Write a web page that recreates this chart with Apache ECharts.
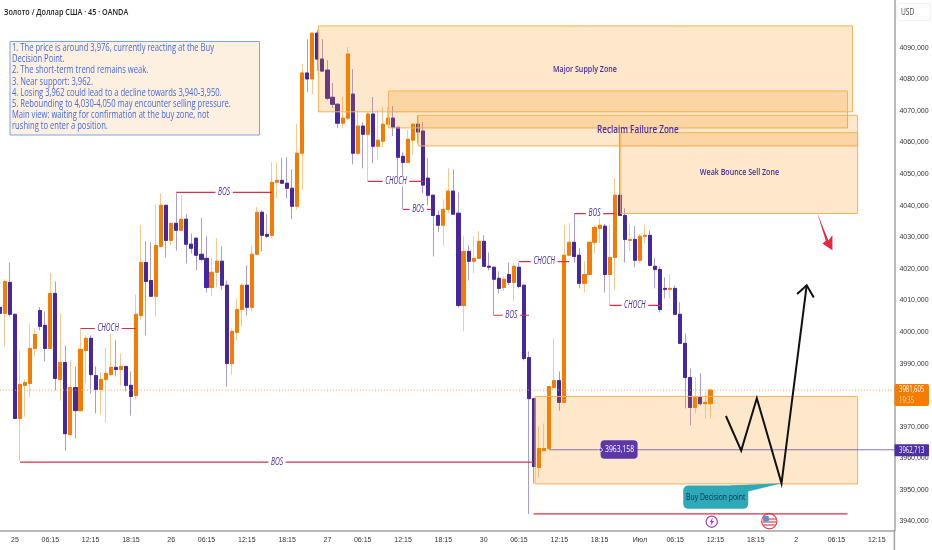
<!DOCTYPE html>
<html><head><meta charset="utf-8">
<style>html,body{margin:0;padding:0;background:#fff}#c{width:932px;height:550px}</style>
<script src="https://cdn.jsdelivr.net/npm/echarts@6/dist/echarts.min.js"></script>
</head><body><div id="c"></div>
<script>
const barCount = 178;
const tickIndex  = [3,10,18,26,34,41,49,57,65,72,80,88,96,103,111,119,127,134,142,150,158,166,174];
const tickLabels = ['25','06:15','12:15','18:15','26','06:15','12:15','18:15','27','06:15','12:15','18:15','30','06:15','12:15','18:15','Июл','06:15','12:15','18:15','2','06:15','12:15'];
const priceTicks = [3940,3950,3960,3970,3980,3990,4000,4010,4020,4030,4040,4050,4060,4070,4080,4090];

const opens = [4007.8,4005.9,4015.7,4005.6,3972.6,3983.1,3983.7,3994.8,4006.8,4002.1,3994.8,4012.2,3985,3990.3,3967.5,3982.4,3975.1,3994.1,3998,3986.2,3981.8,3985,3986.5,3988.8,3988.1,3989.1,3983.1,3979.9,4005.2,4022,4016.3,4011.3,4027.1,4040.1,4029,4034.4,4032.2,4035.7,4027.8,4029.7,4024.6,4023.3,4014.1,4018.9,4022.4,4014.8,3990,3999.9,4007.1,4014.8,4007.8,4024.6,4037.9,4030.9,4030.6,4047.4,4048,4047.1,4045.5,4039.8,4056.6,4082,4080.1,4094.6,4086.4,4082.9,4074.3,4072.1,4066.1,4067.7,4075.3,4056.6,4065.2,4062.6,4069,4058.8,4060.4,4065.8,4067.7,4064.8,4055.6,4053.7,4060.7,4065.8,4063.6,4048.7,4043.3,4036.9,4033.8,4038.8,4044.6,4037.6,4008.4,4025.5,4022.4,4023.3,4028.7,4020.8,4020.5,4017,4014.1,4018.2,4015.7,4020.5,4014.8,3991.9,3978.9,3957.1,3962.4,3963.1,3982.4,3984.6,3977.7,4024.3,4028.4,4024.3,4015.4,4018.2,4028.4,4032.8,4033.5,4018.2,4023.6,4043.3,4036.9,4029,4029.3,4022.7,4030.3,4030.6,4020.8,4019.8,4013.8,4013.5,4013.8,4005.6,3996.4,3985.6,3976.1,3979.3,3977.3,3977.3];
const closes = [4005.9,4016,4005.6,3972.6,3983.4,3984,3994.8,3999.2,4001.8,3994.8,4012.2,3985.3,3990.3,3967.8,3982.4,3975.1,3994.5,3998,3986.5,3981.8,3985,3986.9,3988.8,3988.1,3989.1,3983.1,3979.6,4005.6,4022,4016,4011.3,4027.4,4040.1,4029,4034.4,4032.2,4035.7,4027.8,4026.5,4024.3,4023,4014.1,4018.9,4022.4,4014.8,3990,4000.2,4007.1,4014.8,4007.8,4024.6,4037.9,4030.6,4030.3,4047.4,4048,4047.1,4045.5,4039.8,4056.6,4082,4080.1,4094.6,4086.4,4082.6,4074,4072.1,4066.1,4067.7,4088,4056.6,4065.2,4062.6,4069,4058.8,4060.7,4065.8,4067.7,4064.8,4055.3,4053.7,4061,4065.8,4063.3,4046.5,4043.3,4036.9,4033.8,4038.8,4044.6,4037.3,4008.4,4025.5,4022.4,4023.3,4028.7,4020.8,4020.5,4016.7,4013.8,4016.7,4015.7,4020.8,4014.4,3991.6,3978.9,3957.4,3963.1,3963.1,3982.7,3984.6,3977.7,4024.3,4028.4,4023.9,4015.4,4018.2,4028.4,4033.1,4033.8,4018.2,4023.6,4043.3,4036.9,4029.3,4029.3,4022.7,4030.3,4030.6,4021.1,4019.8,4007.1,4013.5,4013.8,4005.6,3996.4,3985.6,3976.1,3979.3,3977.3,3977.7,3981.6];
const lows = [3997.3,3995.4,4004.9,3972.6,3959.3,3973.2,3979.3,3992.2,4000.5,3990.7,3994.8,3981.5,3978.3,3962.4,3967.2,3966.3,3974.8,3983.7,3980.5,3974.2,3973.9,3971.3,3986.2,3985.9,3983.1,3981.2,3973.5,3978.6,4003.7,3998.9,4011.3,4004.9,4027.1,4023.6,4027.4,4025.8,4032.2,4021.7,4024.9,4019.5,4022.4,4012.5,4011.3,4014.1,4013.2,3982.7,3986.5,3997.3,4001.8,4005.2,4006.5,4024.6,4025.5,4029.7,4029.7,4042.3,4047.1,4042.3,4035.7,4038.8,4044.9,4075.9,4075.3,4082.6,4082.3,4073.4,4070.9,4064.5,4064.5,4067.1,4053.1,4056,4051.8,4047.7,4053.4,4054.4,4058.5,4065.8,4062,4047.1,4038.8,4053.4,4056,4059.8,4043.9,4040.1,4023.9,4031.6,4027.4,4037.6,4037.3,4007.8,4000.2,4016.3,4018.6,4023.3,4020.8,4019.5,4005.2,4012.2,4012.9,4014.8,4009.7,4013.8,3991,3942.4,3952,3953.9,3962.4,3963.1,3982.4,3975.1,3977.7,4024.3,4022,4013.8,4012.5,4018.2,4024.9,4028.1,4012.5,4008.4,4013.2,4036.9,4022,4025.5,4020.5,4021.7,4028.1,4021.1,4013.8,4006.2,4010.6,4010.6,4005.6,3996.4,3975.8,3970.4,3974.2,3976.7,3972.6,3972.6];
const highs = [4015.4,4016.7,4022,4005.6,3994.1,3985,4002.7,4001.1,4007.8,4006.5,4018.6,4016,4005.9,3995.7,3991,3989.1,4001.1,3998.9,3998.9,3989.1,3987.2,3995.1,4001.4,3997.3,3993.2,3989.1,3987.5,4011.9,4033.8,4028.7,4028.4,4040.4,4043.9,4040.1,4034.4,4043.9,4043.3,4037.3,4031.2,4029.7,4036,4030.3,4023.3,4029.7,4027.1,4016.3,4001.1,4010.6,4015.4,4021.1,4027.4,4039.5,4038.5,4037.3,4053.7,4053.7,4055,4055.3,4051.5,4065.8,4084.8,4092.7,4094.6,4095.6,4092.7,4086.1,4078.8,4072.4,4074.4,4090.2,4083.2,4070.2,4066.4,4069.6,4074.4,4070.2,4071.2,4071.2,4071.5,4064.8,4056.9,4063.9,4065.8,4068.6,4066.4,4055,4043.3,4038.5,4042,4051.8,4051.5,4044.2,4030.3,4027.4,4030.3,4031.9,4030.6,4025.2,4020.5,4019.2,4017.6,4022,4021.7,4022,4014.8,3993.8,3978.9,3970.1,3971,3982.7,3998,3987.5,4033.8,4034.4,4037.6,4026.5,4022.4,4028.4,4033.8,4037.6,4034.1,4033.8,4048.7,4062.9,4039.2,4034.4,4033.5,4030.9,4033.8,4032.2,4023.3,4020.8,4017.3,4018.2,4014.8,4009.4,3999.5,3988.4,3985.6,3986.9,3980.8,3981.8];

// [first bar, last bar, top price, bottom price]
const zones = [
  [63.2,169.2,4096.9,4069.7],
  [77.1,168.2,4076.3,4064.6],
  [83.0,170.2,4068.6,4058.9],
  [123.2,170.2,4063.1,4037.5],
  [106.2,170.2,3979.6,3951.9]
];
const zoneNames = [
  ['Major Supply Zone',116.1,4083.2,9.6],
  ['Reclaim Failure Zone',126.6,4063.9,11],
  ['Weak Bounce Sell Zone',146.75,4050.6,9.6]
];
// [label, from bar, to bar, price, label bar]
const structure = [
  ['BOS',4,105.8,3958.8,55],
  ['CHOCH',16,27,4001.1,21.5],
  ['BOS',35,54,4044.2,44.5],
  ['CHOCH',73,84,4047.7,78.6],
  ['BOS',80,85.7,4038.8,83],
  ['BOS',98,105,4005.3,101.5],
  ['CHOCH',103,113,4022.3,108],
  ['BOS',114,122,4037.5,118],
  ['CHOCH',121,131,4008.4,126]
];
const lowLine = [105.9,168.2,3942.4];
const lastPrice = 3981.605;
const decisionPrice = 3962.713;
const pathBars   = [144.07,147.1,150.2,155.1,160.1];
const pathPrices = [3973.4,3962.45,3979,3952.1,4014.8];
const headBars   = [158.2,160.1,161.5];
const headPrices = [4012,4014.8,4010.9];
const redArrow = [[162.2,4037.7],[164.4,4029],[165.2,4030.6],[165.2,4025.85],[163.2,4028],[163.9,4028.8]];

const note = ['1. The price is around 3,976, currently reacting at the Buy','Decision Point.','2. The short-term trend remains weak.','3. Near support: 3,962.','4. Losing 3,962 could lead to a decline towards 3,940-3,950.','5. Rebounding to 4,030-4,050 may encounter selling pressure.','Main view: waiting for confirmation at the buy zone, not','rushing to enter a position.'];

const categories = Array.from({length:barCount},(_,i)=>{const k=tickIndex.indexOf(i);return k>=0?tickLabels[k]:'';});
const SANS = '"Open Sans","Liberation Sans",sans-serif';
const ORANGE='#F57C00', PURPLE='#4527A0';
const candles = opens.map((o,i)=>[o,closes[i],lows[i],highs[i]]);
const bodies  = opens.map((o,i)=>[o,closes[i],Math.min(o,closes[i]),Math.max(o,closes[i])]);

function P(api,x,y){const i=Math.floor(x),b=api.size([1,0])[0],p=api.coord([i,y]);return [p[0]+(x-i)*b,p[1]];}
function overlay(draw,z){return {type:'custom',coordinateSystem:'cartesian2d',clip:false,z:z||5,silent:true,
  data:[[0,4000]],renderItem:(params,api)=>({type:'group',children:draw(api)})};}
const font=(size,w,st)=>`${st||'normal'} ${w||'normal'} ${size}px ${SANS}`;
// a text element squeezed horizontally
function T(text,x,y,size,scale,fill,opts){opts=opts||{};
  return {type:'text',x,y,scaleX:scale,z2:opts.z2||0,style:Object.assign({text,x:0,y:0,fill,font:font(size,opts.weight,opts.style),align:opts.align||'center',verticalAlign:'middle'},opts.extra||{})};}

const option = {
  animation:false, backgroundColor:'#fff',
  grid:{left:-2.64,right:37.6,top:0,bottom:19.5,outerBoundsMode:'none'},
  xAxis:{type:'category',data:categories,boundaryGap:true,
    axisLine:{lineStyle:{color:'#a3a3a3',width:1.5}},axisTick:{show:false},splitLine:{show:false},
    axisLabel:{interval:(i,v)=>v!=='',hideOverlap:false,color:'#333',fontSize:7,fontFamily:'"Liberation Sans"',margin:6}},
  yAxis:{type:'value',position:'right',min:3937.15,max:4105.1,scale:true,
    axisLine:{show:true,lineStyle:{color:'#a3a3a3',width:1.5}},axisTick:{show:false},splitLine:{show:false},
    axisLabel:{customValues:priceTicks,color:'#333',fontSize:7,fontFamily:'"Liberation Sans"',margin:5,
      formatter:v=>v+',000'}},
  series:[
    {type:'candlestick',data:candles,barWidth:3.6,z:2,silent:true,
      itemStyle:{color:ORANGE,color0:PURPLE,borderColor:'#F9C78F',borderColor0:'#A99CD4',borderWidth:1}},
    {type:'candlestick',data:bodies,barWidth:3.6,z:3,silent:true,
      itemStyle:{color:ORANGE,color0:PURPLE,borderColor:ORANGE,borderColor0:PURPLE,borderWidth:1}},
    overlay(api=>{
      const c=[];
      const a=P(api,0,lastPrice), b=P(api,177.5,lastPrice);
      c.push({type:'line',shape:{x1:a[0],y1:a[1],x2:b[0],y2:b[1]},style:{stroke:'#F5A04A',lineWidth:1,lineDash:[1,2]}});
      zones.forEach(z=>{const p=P(api,z[0],z[2]),q=P(api,z[1],z[3]);
        c.push({type:'rect',shape:{x:p[0],y:p[1],width:q[0]-p[0],height:q[1]-p[1]},
          style:{fill:'rgba(245,140,0,0.2)',stroke:'#F6B257',lineWidth:1}});});
      zoneNames.forEach(n=>{const p=P(api,n[1],n[2]);
        c.push(T(n[0],p[0],p[1],n[3],0.74,'#4A2BA0',{weight:'600'}));});
      return c;
    },4),
    overlay(api=>{
      const c=[];
      structure.forEach(s=>{const p=P(api,s[1],s[3]),q=P(api,s[2],s[3]),t=P(api,s[4],s[3]);
        c.push({type:'line',shape:{x1:p[0],y1:p[1],x2:q[0],y2:q[1]},style:{stroke:'#D8304A',lineWidth:1.2}});
        c.push(T(s[0],t[0],t[1],10,0.66,'#4A2BA0',{style:'italic',extra:{backgroundColor:'#fff',padding:[0,4]}}));
      });
      const l=P(api,lowLine[0],lowLine[2]),r=P(api,lowLine[1],lowLine[2]);
      c.push({type:'line',shape:{x1:l[0],y1:l[1],x2:r[0],y2:r[1]},style:{stroke:'#D8304A',lineWidth:1.2}});
      const d0=P(api,109,decisionPrice),d1=P(api,177.5,decisionPrice);
      c.push({type:'line',shape:{x1:d0[0],y1:d0[1],x2:d1[0],y2:d1[1]},style:{stroke:'rgba(85,60,160,0.7)',lineWidth:1.2}});
      // callout
      const tail=[[144.9,3951.4],[155.1,3952.1],[148.5,3949.5]].map(v=>P(api,v[0],v[1]));
      const bx=P(api,135.6,3951.4),by=P(api,148.5,3944);
      c.push({type:'polygon',shape:{points:tail},style:{fill:'#2FA9B8'}});
      c.push({type:'rect',shape:{x:bx[0],y:bx[1],width:by[0]-bx[0],height:by[1]-bx[1],r:5},style:{fill:'#2FA9B8'}});
      c.push(T('Buy Decision point',(bx[0]+by[0])/2,(bx[1]+by[1])/2,9.5,0.72,'#0F2A52'));
      // pill
      const pl=P(api,119.2,3962.7);
      c.push({type:'rect',shape:{x:pl[0],y:pl[1]-9.5,width:37,height:18.5,r:4},style:{fill:'#5B37A8'}});
      c.push(T('3963,158',pl[0]+19,pl[1]-0.5,9.5,0.72,'#fff'));
      c.push({type:'circle',shape:{cx:pl[0],cy:pl[1],r:1.7},style:{fill:'#5B37A8',stroke:'#fff',lineWidth:0.8}});
      // black path and arrow head
      c.push({type:'polyline',shape:{points:pathBars.map((x,i)=>P(api,x,pathPrices[i]))},style:{fill:null,stroke:'#111',lineWidth:2,lineJoin:'miter'}});
      c.push({type:'polyline',shape:{points:headBars.map((x,i)=>P(api,x,headPrices[i]))},style:{fill:null,stroke:'#111',lineWidth:2,lineJoin:'miter'}});
      c.push({type:'polygon',shape:{points:redArrow.map(v=>P(api,v[0],v[1]))},style:{fill:'#E8263C'}});
      // axis tags
      const o=P(api,0,lastPrice)[1], u=P(api,0,decisionPrice)[1];
      c.push({type:'rect',shape:{x:894.5,y:o-6,width:34.5,height:22,r:2},style:{fill:ORANGE}});
      c.push(T('3981,605',899,o-0.5,9,0.66,'#fff',{align:'left'}));
      c.push(T('19:35',899,o+10,9,0.66,'#FFD9AE',{align:'left'}));
      c.push({type:'rect',shape:{x:894.5,y:u-5.5,width:34.5,height:12,r:1},style:{fill:'#4B2FA3'}});
      c.push(T('3962,713',899,u+0.5,9,0.66,'#fff',{align:'left'}));
      return c;
    },6)
  ],
  graphic:[
    {type:'text',x:4,y:7,scaleX:0.76,style:{text:'Золото / Доллар США · 45 · OANDA',fill:'#222',font:'600 9.5px '+SANS}},
    {type:'rect',left:9.5,top:41,shape:{width:249.5,height:93.5},style:{fill:'#FDF0E1',stroke:'#7FA3EA',lineWidth:1}},
    {type:'text',x:12,y:42.5,scaleX:0.76,style:{text:note.join('\n'),fill:'#4169E1',font:'10px '+SANS,lineHeight:11.2}},
    {type:'rect',left:896.5,top:3,shape:{width:33,height:17,r:2},style:{fill:'#fff',stroke:'#f0f0f0'}},
    {type:'text',x:901,y:8,scaleX:0.74,style:{text:'USD',fill:'#444',font:'9px '+SANS}},
    {type:'line',shape:{x1:894.4,y1:530,x2:894.4,y2:550},style:{stroke:'#a3a3a3',lineWidth:1.5}},
    // event icons
    {type:'circle',shape:{cx:711.7,cy:521.7,r:5.6},style:{fill:'#fff',stroke:'#9C3FC0',lineWidth:1.2}},
    {type:'polygon',shape:{points:[[713,517.5],[709.5,522.2],[711.5,522.2],[710.5,526],[714,521],[712,521]]},style:{fill:'#9C3FC0'}},
    {type:'circle',shape:{cx:769.3,cy:521.3,r:7.6},style:{fill:'#fff',stroke:'#E4404F',lineWidth:1.2}},
    {type:'line',shape:{x1:763,y1:519,x2:776,y2:519},style:{stroke:'#E4404F',lineWidth:1.2}},
    {type:'line',shape:{x1:762.6,y1:522,x2:776,y2:522},style:{stroke:'#E4404F',lineWidth:1.2}},
    {type:'line',shape:{x1:763.2,y1:525,x2:775.4,y2:525},style:{stroke:'#E4404F',lineWidth:1.2}},
    {type:'rect',shape:{x:763,y:516,width:6,height:5.5,r:1.5},style:{fill:'#5A8FDA'}}
  ]
};
echarts.init(document.getElementById('c'),null,{renderer:'canvas'}).setOption(option);
</script></body></html>
